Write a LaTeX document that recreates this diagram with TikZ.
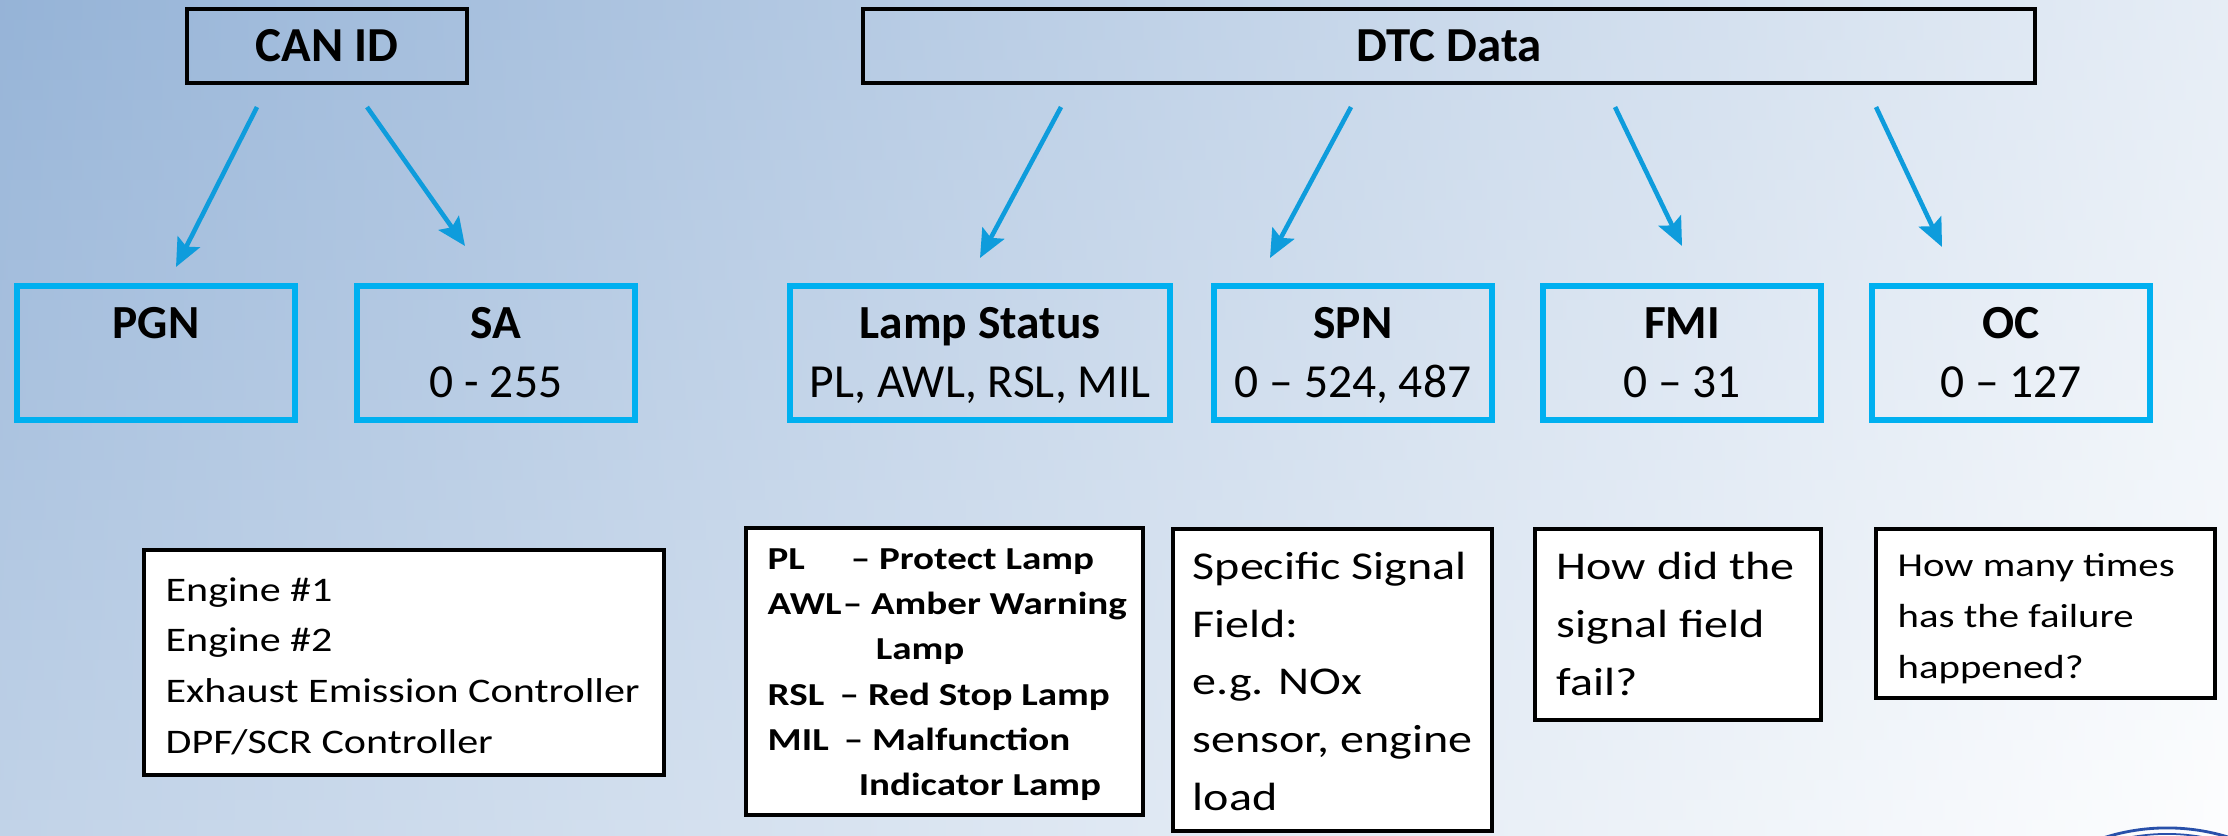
\documentclass[tikz,border=0pt]{standalone}
\usepackage{fontspec}
\setmainfont{Carlito}
\newfontfamily\notefont{Carlito}[FakeStretch=1.22,Ligatures=TeX]
\usetikzlibrary{arrows.meta,calc}
\definecolor{bgblue}{RGB}{149,179,215}
\definecolor{arrowblue}{RGB}{14,156,220}
\definecolor{boxblue}{RGB}{0,176,240}
\definecolor{logoblue}{RGB}{40,80,170}

\begin{document}
\begin{tikzpicture}[x=0.01cm,y=-0.01cm]
    \tikzstyle{head}=[draw=black,line width=1.14pt,inner sep=0pt,minimum height=0.74cm,font=\fontsize{13.9pt}{16pt}\selectfont\bfseries]
    \tikzstyle{field}=[draw=boxblue,line width=1.7pt,inner sep=0pt,minimum width=2.78cm,minimum height=1.34cm]
    \tikzstyle{note}=[draw=black,fill=white,line width=1.1pt,inner sep=0pt]
    \tikzstyle{flow}=[draw=arrowblue,line width=1.3pt,-{Stealth[length=8pt,width=7pt,inset=1.5pt]}]
    \tikzstyle{ttl}=[anchor=base,inner sep=0pt,font=\fontsize{13.5pt}{16pt}\selectfont\bfseries]
    \tikzstyle{rng}=[anchor=base,inner sep=0pt,font=\fontsize{13.5pt}{16pt}\selectfont]
    \tikzstyle{txt}=[anchor=base west,align=left,inner sep=0pt]
    \useasboundingbox (0,0) rectangle (2228,835);
    % background
    \foreach \i in {0,...,41}{
      \pgfmathsetmacro\tl{1.006*(\i+0.5)}
      \pgfmathsetmacro\tr{76+0.527*(\i+0.5)}
      \fill[left color=white!\tl!bgblue,right color=white!\tr!bgblue] (0,20*\i) rectangle (2228,20*\i+21);
    }
    % top row
    \node[head,minimum width=2.80cm] (canid) at (327,46) {CAN ID};
    \node[head,minimum width=11.72cm] (dtc) at (1449,46) {DTC Data};
    % fields
    \node[field] (pgn) at (156,353) {};
    \node[field] (sa) at (496,353) {};
    \node[field,minimum width=3.80cm] (lamp) at (980,353) {};
    \node[field] (spn) at (1353,353) {};
    \node[field] (fmi) at (1682,353) {};
    \node[field] (oc) at (2011,353) {};
    \node[ttl] (pgn-t) at (156,338) {PGN};
    \node[ttl] (sa-t) at (496,338) {SA};
    \node[rng] (sa-r) at (496,397) {0 - 255};
    \node[ttl] (lamp-t) at (980,338) {Lamp Status};
    \node[rng] (lamp-r) at (980,397) {PL, AWL, RSL, MIL};
    \node[ttl] (spn-t) at (1353,338) {SPN};
    \node[rng] (spn-r) at (1353,397) {0 -- 524, 487};
    \node[ttl] (fmi-t) at (1682,338) {FMI};
    \node[rng] (fmi-r) at (1682,397) {0 -- 31};
    \node[ttl] (oc-t) at (2011,338) {OC};
    \node[rng] (oc-r) at (2011,397) {0 -- 127};
    % arrows
    \draw[flow] ($(canid.south)+(-70,22)$) -- ($(pgn.north)+(20,-16)$);
    \draw[flow] ($(canid.south)+(40,22)$) -- ($(sa.north)+(-31,-37)$);
    \draw[flow] ($(dtc.south)+(-388,22)$) -- ($(lamp.north)+(0,-25)$);
    \draw[flow] ($(dtc.south)+(-98,22)$) -- ($(spn.north)+(-83,-25)$);
    \draw[flow] ($(dtc.south)+(166,22)$) -- ($(fmi.north)+(0,-37)$);
    \draw[flow] ($(dtc.south)+(427,22)$) -- ($(oc.north)+(-69,-36)$);
    % notes (text anchored on the last line)
    \node[note,minimum width=5.20cm,minimum height=2.25cm] (eng) at (404,662.5) {};
    \node[note,minimum width=3.97cm,minimum height=2.87cm] (lampkey) at (944.5,671.5) {};
    \node[note,minimum width=3.19cm,minimum height=3.02cm] (spnnote) at (1332.5,680) {};
    \node[note,minimum width=2.86cm,minimum height=1.91cm] (fminote) at (1678,624.5) {};
    \node[note,minimum width=3.39cm,minimum height=1.69cm] (ocnote) at (2045.5,613.5) {};
    \node[txt,font=\notefont\fontsize{9.8pt}{14.4pt}\selectfont] (eng-t) at (165,753)
      {Engine \#1\\Engine \#2\\Exhaust Emission Controller\\DPF/SCR Controller};
    \node[txt,font=\notefont\fontsize{9.1pt}{12.8pt}\selectfont\bfseries] (lampkey-t) at (767,795)
      {\makebox[0.83cm][l]{PL}– Protect Lamp\\
       \makebox[0.75cm][l]{AWL}– Amber Warning\\
       \hspace*{1.08cm}Lamp\\
       \makebox[0.72cm][l]{RSL}– Red Stop Lamp\\
       \makebox[0.76cm][l]{MIL}– Malfunction\\
       \hspace*{0.91cm}Indicator Lamp};
    \node[txt,font=\notefont\fontsize{11.2pt}{16.4pt}\selectfont] (spnnote-t) at (1192,810)
      {Specific Signal\\Field:\\e.g. NOx\\sensor, engine\\load};
    \node[txt,font=\notefont\fontsize{11.2pt}{16.4pt}\selectfont] (fminote-t) at (1556,695)
      {How did the\\signal field\\fail?};
    \node[txt,font=\notefont\fontsize{9.5pt}{14.4pt}\selectfont] (ocnote-t) at (1897,678)
      {How many times\\has the failure\\happened?};
    % logo edge
    \begin{scope}
      \clip (0,0) rectangle (2228,835);
      \draw[logoblue,line width=0.8pt] (2167,1035) circle (2.07cm);
      \draw[logoblue,line width=0.5pt] (2167,1035) circle (2.01cm);
    \end{scope}
\end{tikzpicture}
\end{document}
